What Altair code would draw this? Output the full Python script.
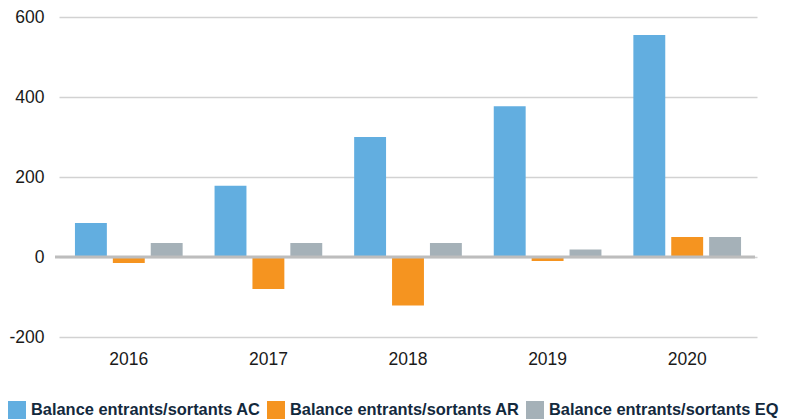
import altair as alt
import pandas as pd

years = ["2016", "2017", "2018", "2019", "2020"]
series = ["Balance entrants/sortants AC", "Balance entrants/sortants AR", "Balance entrants/sortants EQ"]
ac_values = [85, 178, 300, 377, 555]
ar_values = [-15, -80, -121, -10, 50]
eq_values = [35, 35, 35, 19, 50]
colors = ["#62aee0", "#f59420", "#a5b1b8"]
y_ticks = [-200, 0, 200, 400, 600]

rows = []
for vals, s in zip([ac_values, ar_values, eq_values], series):
    for y, v in zip(years, vals):
        rows.append({"year": y, "series": s, "value": v})
df = pd.DataFrame(rows)

bars = alt.Chart(df).mark_bar().encode(
    x=alt.X("year:N", sort=years, title=None,
            scale=alt.Scale(range=[4, 702], paddingInner=0.2286, paddingOuter=0.1143),
            axis=alt.Axis(labelAngle=0, ticks=False, domain=False, grid=False,
                          labelFont="Liberation Sans", labelFontSize=17.5,
                          labelColor="#1a1a1a", labelPadding=13)),
    xOffset=alt.XOffset("series:N", sort=series,
                        scale=alt.Scale(paddingInner=0.158, paddingOuter=0)),
    y=alt.Y("value:Q", title=None,
            scale=alt.Scale(domain=[-200, 600], nice=False, zero=False),
            axis=alt.Axis(values=y_ticks, ticks=False, domain=False,
                          labelExpr="'' + datum.value",
                          labelFont="Liberation Sans", labelFontSize=17.5,
                          labelColor="#1a1a1a", labelPadding=11,
                          gridColor="#d2d2d2", gridWidth=1.4)),
    color=alt.Color("series:N", sort=series,
                    scale=alt.Scale(domain=series, range=colors),
                    legend=alt.Legend(title=None, orient="none", direction="horizontal",
                                      legendX=-47, legendY=384,
                                      symbolType="square", symbolSize=324,
                                      symbolStrokeWidth=0, symbolOpacity=1,
                                      labelFont="Liberation Sans",
                                      labelFontWeight="bold", labelFontSize=16.4,
                                      labelLimit=400,
                                      labelColor="#13293d", labelOffset=5,
                                      columnPadding=6, padding=0)),
)

zero = alt.Chart(pd.DataFrame({"z": [0]})).mark_rule(color="#bdbdbd", strokeWidth=3).encode(
    y=alt.Y("z:Q")
)

chart = alt.layer(bars, zero).properties(
    width=700, height=320,
    autosize=alt.AutoSizeParams(type="none"),
    padding={"left": 47, "top": 9, "right": 34, "bottom": 82},
).configure_view(stroke=None)

chart.save("out.html", embed_options={"renderer": "svg", "actions": False})
